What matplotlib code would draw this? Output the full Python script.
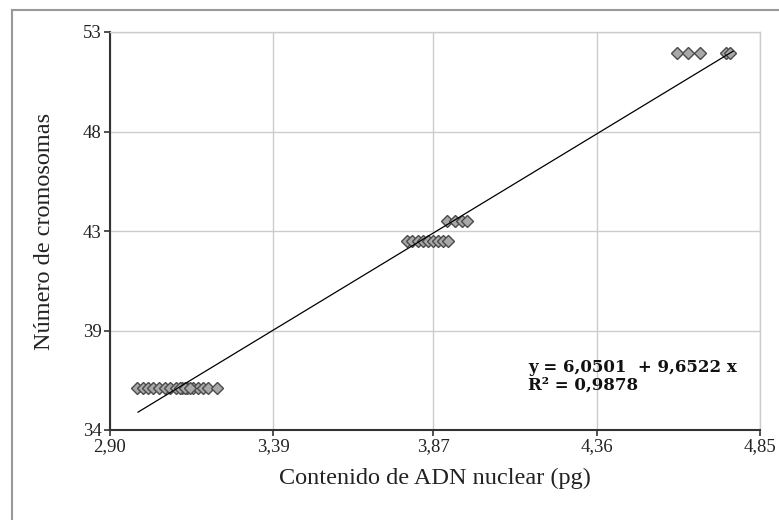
import numpy as np
import matplotlib
matplotlib.use("Agg")
import matplotlib.pyplot as plt
from matplotlib.lines import Line2D

plt.rcParams['font.family'] = ['Liberation Serif', 'DejaVu Serif']

# contenido de ADN (pg) y número de cromosomas por grupo
adn_36 = [2.981, 2.999, 3.014, 3.029, 3.047, 3.065, 3.080, 3.098, 3.116,
          3.131, 3.149, 3.164, 3.179, 3.194, 3.221, 3.110, 3.125, 3.140]
adn_43 = [3.791, 3.806, 3.824, 3.839, 3.854, 3.869, 3.884, 3.899, 3.914]
adn_44 = [3.911, 3.935, 3.956, 3.971]
adn_52 = [4.601, 4.634, 4.670, 4.748, 4.760]
crom = [36, 43, 44, 52]

# recta de regresión
intercepto = 6.0501
pendiente = 9.6522
r2 = 0.9878
x_recta = [2.984, 4.769]

x_ticks = [2.90, 3.39, 3.87, 4.36, 4.85]
x_labels = ['2,90', '3,39', '3,87', '4,36', '4,85']
y_ticks = [34, 38.75, 43.5, 48.25, 53]
y_labels = ['34', '39', '43', '48', '53']

W, H = 779, 520
fig = plt.figure(figsize=(W / 100, H / 100), dpi=100)
ax = fig.add_axes([110 / W, (H - 430) / H, 650 / W, 398 / H])

grupos = [adn_36, adn_43, adn_44, adn_52]
for xs, n in zip(grupos, crom):
    ax.plot(xs, [n] * len(xs), linestyle='none', marker='D', markersize=6,
            markerfacecolor='#a8a8a8', markeredgecolor='#4a4a4a',
            markeredgewidth=1.0, zorder=3)

xr = np.array(x_recta)
ax.plot(xr, intercepto + pendiente * xr, color='black', lw=0.9, zorder=4)

ax.set_xlim(x_ticks[0], x_ticks[-1])
ax.set_ylim(y_ticks[0], y_ticks[-1])
ax.set_xticks(x_ticks)
ax.set_xticklabels(x_labels)
ax.set_yticks(y_ticks)
ax.set_yticklabels(y_labels)
ax.tick_params(direction='out', length=4, width=1.2, color='#333333',
               labelsize=13.5, labelcolor='#222222', pad=2)

ax.grid(True, color='#cccccc', lw=1.0)
ax.set_axisbelow(True)
for s in ['top', 'right']:
    ax.spines[s].set_color('#cccccc')
    ax.spines[s].set_linewidth(1.0)
for s in ['left', 'bottom']:
    ax.spines[s].set_color('#333333')
    ax.spines[s].set_linewidth(1.5)

ax.set_xlabel('Contenido de ADN nuclear (pg)', fontsize=17.5, color='#222222',
              labelpad=9)
ax.set_ylabel('Número de cromosomas', fontsize=17.5, color='#222222',
              labelpad=20)

eq_font = dict(family='DejaVu Serif', fontsize=12, fontweight='bold',
               color='#111111', va='center')
ax.text(0.643, 0.158,
        f'y = {intercepto:.4f}  + {pendiente:.4f} x'.replace('.', ','),
        transform=ax.transAxes, **eq_font)
ax.text(0.643, 0.114, f'R² = {r2:.4f}'.replace('.', ','),
        transform=ax.transAxes, **eq_font)

# marco gris exterior
fig.add_artist(Line2D([12 / W, 12 / W], [0, 1 - 10 / H], color='#999999',
                      lw=1.5, transform=fig.transFigure))
fig.add_artist(Line2D([12 / W, 1], [1 - 10 / H, 1 - 10 / H], color='#999999',
                      lw=1.5, transform=fig.transFigure))

fig.savefig('out.png', dpi=100)
